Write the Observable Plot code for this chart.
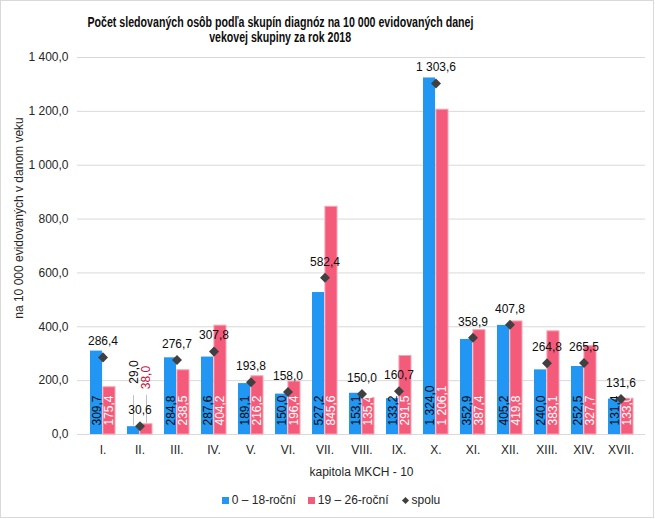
<!DOCTYPE html>
<html>
<head>
<meta charset="utf-8">
<script src="https://cdn.jsdelivr.net/npm/d3@7"></script>
<script src="https://cdn.jsdelivr.net/npm/@observablehq/plot@0.6"></script>
<style>
  body { margin: 0; background: #fff; }
  #wrap { position: relative; width: 655px; height: 519px; overflow: hidden; background: #fff;
          font-family: "Liberation Sans", Arial, sans-serif; color: #262626; }
  #frame { position: absolute; left: 0; top: 0; width: 652px; height: 516px; border: 1px solid #d9d9d9; pointer-events: none; }
  .tl { position: absolute; left: 0; width: 560px; text-align: center; white-space: nowrap;
        font: bold 14.5px/15px "Liberation Sans Narrow", "Arial Narrow", "Liberation Sans", Arial, sans-serif; color: #0d0d0d; }
  .tl span { display: inline-block; transform-origin: 50% 50%; }
  #chart { position: absolute; left: 0; top: 45px; }
  #legend { position: absolute; left: 0; top: 493px; width: 662px; display: flex; justify-content: center; align-items: center;
            font-size: 12px; line-height: 14px; color: #262626; }
  .item { display: flex; align-items: center; margin: 0 6px; }
  .sw { width: 7px; height: 7px; margin-right: 3px; }
  .dm { width: 5px; height: 5px; background: #404040; transform: rotate(45deg); margin-right: 4px; margin-left: 2px; }
</style>
</head>
<body>
<div id="wrap">
  <div class="tl" id="t1" style="top:14.5px"><span></span></div>
  <div class="tl" id="t2" style="top:29.5px"><span></span></div>
  <div id="chart"></div>
  <div id="legend"></div>
  <div id="frame"></div>
</div>
<script>
// ---- data ----
const categories = ["I.", "II.", "III.", "IV.", "V.", "VI.", "VII.", "VIII.", "IX.", "X.", "XI.", "XII.", "XIII.", "XIV.", "XVII."];
const age0to18  = [309.7, 29.0, 284.8, 287.6, 189.1, 150.0, 527.2, 153.1, 133.2, 1324.0, 352.9, 405.2, 240.0, 252.5, 131.4];
const age19to26 = [175.4, 38.0, 238.5, 404.2, 216.2, 196.4, 845.6, 135.4, 291.5, 1206.1, 387.4, 419.8, 383.1, 327.7, 133.0];
const totals    = [286.4, 30.6, 276.7, 307.8, 193.8, 158.0, 582.4, 150.0, 160.7, 1303.6, 358.9, 407.8, 264.8, 265.5, 131.6];
const yTicks = [0, 200, 400, 600, 800, 1000, 1200, 1400];
const seriesNames = ["0 – 18-roční", "19 – 26-roční", "spolu"];
const titleLines = ["Počet sledovaných osôb podľa skupín diagnóz na 10 000 evidovaných danej", "vekovej skupiny za rok 2018"];
const xTitle = "kapitola MKCH - 10";
const yTitle = "na 10 000 evidovaných v danom veku";

// ---- styles ----
const BLUE = "#2196f3", PINK = "#f45b7a", DARK = "#404040", TXT = "#0d0d0d";
const loc = d3.formatLocale({decimal: ",", thousands: " ", grouping: [3], currency: ["", ""]});
const fmt = loc.format(",.1f");

const rows = categories.map((c, i) => ({cat: c, a: age0to18[i], b: age19to26[i], t: totals[i]}));
const SMALL = 60; // bars too short for an inside label get it above, with a leader line
const aIn = rows.filter(d => d.a >= SMALL), aOut = rows.filter(d => d.a < SMALL);
const bIn = rows.filter(d => d.b >= SMALL), bOut = rows.filter(d => d.b < SMALL);

const chart = Plot.plot({
  width: 655,
  height: 440,
  marginTop: 12,
  marginBottom: 51,
  marginLeft: 77,
  marginRight: 10,
  style: {fontFamily: "'Liberation Sans', Arial, sans-serif", fontSize: "12px", color: "#262626", background: "transparent"},
  x: {domain: categories, padding: 0, label: null},
  y: {domain: [0, 1400], label: null},
  marks: [
    Plot.gridY(yTicks, {stroke: "#d9d9d9", strokeOpacity: 1}),
    Plot.barY(rows, {x: "cat", y: "a", fill: BLUE, insetLeft: 6, insetRight: 18.93}),
    Plot.barY(rows, {x: "cat", y: "b", fill: PINK, stroke: "#f8a3b5", strokeWidth: 1, insetLeft: 18.93, insetRight: 6}),
    Plot.axisY({ticks: yTicks, tickFormat: fmt, tickSize: 0, tickPadding: 9, label: null, fill: "#262626"}),
    Plot.axisX({tickSize: 0, tickPadding: 11, label: null, fill: "#262626"}),
    // inside labels
    Plot.text(aIn, {x: "cat", frameAnchor: "bottom", lineAnchor: "middle", text: d => fmt(d.a), rotate: -90, textAnchor: "start", dx: -6.1, dy: -9, fill: TXT}),
    Plot.text(bIn, {x: "cat", frameAnchor: "bottom", lineAnchor: "middle", text: d => fmt(d.b), rotate: -90, textAnchor: "start", dx: 6.6, dy: -9, fill: "#ffffff"}),
    // outside labels with leader lines
    Plot.ruleX(aOut, {x: "cat", y1: "a", y2: "a", dx: -6.5, insetTop: -1, insetBottom: 31, stroke: "#bfbfbf"}),
    Plot.ruleX(bOut, {x: "cat", y1: "b", y2: "b", dx: 6.5, insetTop: -1, insetBottom: 29, stroke: "#bfbfbf"}),
    Plot.text(aOut, {x: "cat", y: "a", lineAnchor: "middle", text: d => fmt(d.a), rotate: -90, textAnchor: "start", dx: -5.6, dy: -43, fill: TXT}),
    Plot.text(bOut, {x: "cat", y: "b", lineAnchor: "middle", text: d => fmt(d.b), rotate: -90, textAnchor: "start", dx: 6.5, dy: -35, fill: "#c8103a"}),
    // totals
    Plot.dot(rows, {x: "cat", y: "t", symbol: "square", rotate: 45, r: 4, fill: DARK, stroke: "none"}),
    Plot.text(rows, {x: "cat", y: "t", text: d => fmt(d.t), dy: -16, fill: TXT}),
    // axis titles
    Plot.text([xTitle], {frameAnchor: "bottom", text: d => d, dy: 41, fill: "#262626"}),
    Plot.text([yTitle], {frameAnchor: "left", text: d => d, rotate: -90, textAnchor: "middle", dx: -58, dy: -28, fill: "#262626"})
  ]
});
document.getElementById("chart").appendChild(chart);

// ---- title (fit to the reference widths) ----
const targetW = [386, 142];
["t1", "t2"].forEach((id, i) => {
  const span = document.querySelector("#" + id + " span");
  span.textContent = titleLines[i];
  const w = span.getBoundingClientRect().width;
  if (w > 0) span.style.transform = `scaleX(${targetW[i] / w})`;
});

// ---- legend ----
const legend = document.getElementById("legend");
const swatch = [BLUE, PINK, null];
seriesNames.forEach((name, i) => {
  const item = document.createElement("div");
  item.className = "item";
  const m = document.createElement("div");
  if (swatch[i]) { m.className = "sw"; m.style.background = swatch[i]; }
  else m.className = "dm";
  const t = document.createElement("span");
  t.textContent = name;
  item.appendChild(m); item.appendChild(t);
  legend.appendChild(item);
});
</script>
</body>
</html>
